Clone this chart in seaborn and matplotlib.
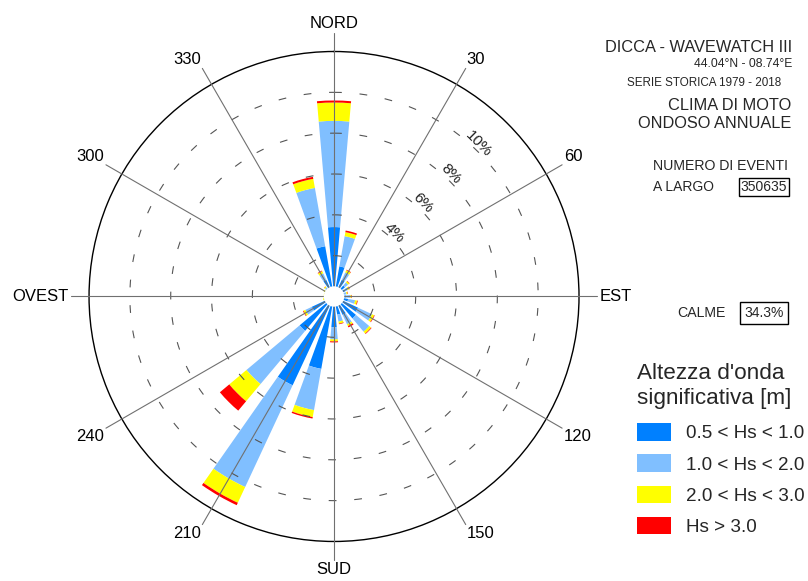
import numpy as np
import pandas as pd
import matplotlib
matplotlib.use('Agg')
import matplotlib.pyplot as plt
import seaborn as sns
from matplotlib.patches import Patch

# direzioni di provenienza (gradi da nord) e frequenze in % per classe di Hs
directions = list(range(0, 360, 15))
hs_05_10 = [3.4, 1.5, 0.9, 0.7, 0.6, 0.5, 0.6, 0.7, 1.3, 1.4, 1.0, 0.9,
            1.5, 3.6, 4.8, 2.2, 1.2, 0.45, 0.42, 0.42, 0.45, 0.5, 0.9, 2.5]
hs_10_20 = [5.2, 1.5, 0.4, 0.2, 0.15, 0.12, 0.2, 0.35, 0.75, 0.85, 0.5, 0.35,
            0.6, 2.05, 5.5, 3.4, 0.35, 0.05, 0.05, 0.05, 0.06, 0.08, 0.35, 2.9]
hs_20_30 = [0.9, 0.2, 0.12, 0.08, 0.08, 0.06, 0.06, 0.1, 0.12, 0.12, 0.1, 0.1,
            0.1, 0.35, 0.85, 1.1, 0.1, 0.05, 0.04, 0.04, 0.05, 0.06, 0.12, 0.45]
hs_30 = [0.1, 0.08, 0.03, 0.02, 0.02, 0.02, 0.02, 0.03, 0.03, 0.03, 0.07, 0.03,
         0.05, 0.07, 0.13, 0.6, 0.03, 0.0, 0.0, 0.0, 0.0, 0.01, 0.03, 0.1]

class_labels = ['0.5 < Hs < 1.0', '1.0 < Hs < 2.0', '2.0 < Hs < 3.0', 'Hs > 3.0']
class_colors = ['#0080ff', '#80bfff', '#ffff00', '#ff0000']

spoke_angles = list(range(0, 360, 30))
spoke_labels = ['NORD', '30', '60', 'EST', '120', '150',
                'SUD', '210', '240', 'OVEST', '300', '330']
ring_levels = [2, 4, 6, 8, 10]
ring_labels = ['4%', '6%', '8%', '10%']
r_max = 12

W, H = 808, 581


def fx(x, y):
    return x / W, 1 - y / H


df = pd.DataFrame({'dir': directions, class_labels[0]: hs_05_10,
                   class_labels[1]: hs_10_20, class_labels[2]: hs_20_30,
                   class_labels[3]: hs_30})

sns.set_theme(style='white')
plt.rcParams['font.family'] = ['Liberation Sans', 'DejaVu Sans']

fig = plt.figure(figsize=(W / 100, H / 100), dpi=100)
ax = fig.add_axes([0.1102, 0.068, 0.6064, 0.8434], projection='polar')
ax.set_theta_zero_location('N')
ax.set_theta_direction(-1)
ax.set_ylim(0, r_max)
ax.set_xticks([])
ax.set_yticks([])
ax.grid(False)
ax.spines['polar'].set_color('black')
ax.spines['polar'].set_linewidth(1.0)

theta = np.radians(df['dir'].values)
bottom = np.zeros(len(df))
for lab, col in zip(class_labels, class_colors):
    ax.bar(theta, df[lab].values, width=np.radians(10), bottom=bottom,
           color=col, linewidth=0, zorder=2)
    bottom += df[lab].values

# cerchi tratteggiati
th = np.linspace(0, 2 * np.pi, 400)
for lvl in ring_levels:
    ax.plot(th, np.full_like(th, lvl), color='#555555', lw=0.8,
            ls=(0, (7, 16)), zorder=3)

# raggi
for a in spoke_angles:
    ax.plot([np.radians(a)] * 2, [0, r_max * 1.075], color='#707070',
            lw=0.8, zorder=3, clip_on=False)

# foro centrale
ax.bar(0, 0.5, width=2 * np.pi, bottom=0, color='white', linewidth=0, zorder=4)

for a, lab in zip(spoke_angles, spoke_labels):
    s, c = np.sin(np.radians(a)), np.cos(np.radians(a))
    ha = 'left' if s > 0.3 else ('right' if s < -0.3 else 'center')
    va = 'bottom' if c > 0.3 else ('top' if c < -0.3 else 'center')
    ax.text(np.radians(a), 13.0, lab, ha=ha, va=va, fontsize=12, color='black')

for lvl, lab in zip(ring_levels[1:], ring_labels):
    ax.text(np.radians(43.5), lvl + 0.3, lab, rotation=-45, rotation_mode='anchor',
            ha='center', va='center', fontsize=11, color='#222222')

# testi a destra
fig.text(*fx(792, 47), 'DICCA - WAVEWATCH III', ha='right', va='center', fontsize=11.8)
fig.text(*fx(792, 64), '44.04°N - 08.74°E', ha='right', va='center', fontsize=8.7)
fig.text(*fx(781, 83), 'SERIE STORICA 1979 - 2018', ha='right', va='center', fontsize=8.4)
fig.text(*fx(791, 105), 'CLIMA DI MOTO', ha='right', va='center', fontsize=11.8)
fig.text(*fx(791, 124), 'ONDOSO ANNUALE', ha='right', va='center', fontsize=11.8)
fig.text(*fx(788, 166), 'NUMERO DI EVENTI', ha='right', va='center', fontsize=10.2)
fig.text(*fx(653, 187), 'A LARGO', ha='left', va='center', fontsize=10)
box = dict(boxstyle='square,pad=0.15', fc='white', ec='black', lw=1)
fig.text(*fx(764, 187), '350635', ha='center', va='center', fontsize=10, bbox=box)
fig.text(*fx(677, 313), 'CALME', ha='left', va='center', fontsize=10.2)
fig.text(*fx(764, 313), '34.3%', ha='center', va='center', fontsize=10,
         bbox=dict(boxstyle='square,pad=0.3', fc='white', ec='black', lw=1))

fig.text(*fx(637, 386), "Altezza d'onda\nsignificativa [m]", ha='left', va='center',
         fontsize=16.2, linespacing=1.22)

handles = [Patch(facecolor=c, edgecolor='none') for c in class_colors]
fig.legend(handles, class_labels, loc='upper left', bbox_to_anchor=fx(637, 423),
           frameon=False, fontsize=13.6, handlelength=1.8, handleheight=1.05,
           handletextpad=0.8, labelspacing=0.64, borderpad=0, borderaxespad=0)

fig.savefig('out.png', dpi=100)
